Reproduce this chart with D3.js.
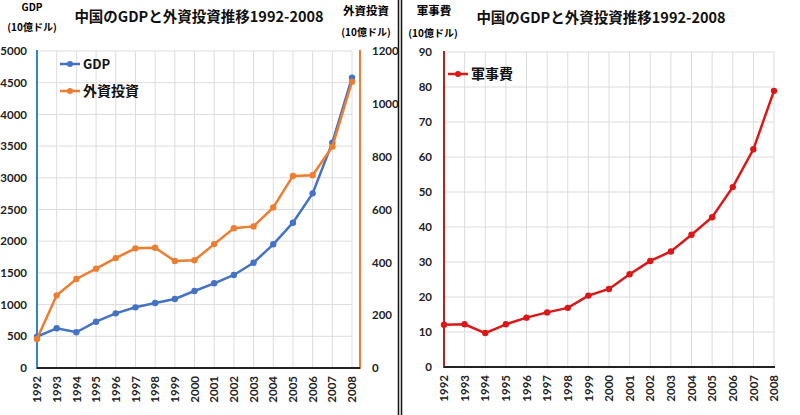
<!DOCTYPE html>
<html><head><meta charset="utf-8">
<script src="https://cdn.jsdelivr.net/npm/d3@7"></script>
<style>
body{margin:0;background:#fff;}
svg{display:block;}
text{font-family:"Noto Sans CJK JP","Lato",sans-serif;}
.tick text{font-family:"Lato","Noto Sans CJK JP",sans-serif;font-weight:700;font-size:11.5px;fill:#222;}
</style>
</head><body>
<svg id="c" width="800" height="415"></svg>
<script>
const years = ["1992","1993","1994","1995","1996","1997","1998","1999","2000","2001","2002","2003","2004","2005","2006","2007","2008"];
const gdp = [494,626,563,730,862,957,1025,1088,1214,1336,1467,1661,1951,2292,2755,3554,4579];
const fdi = [110,275,337,376,416,453,455,405,408,469,529,536,608,727,730,838,1084];
const military = [12.1,12.2,9.7,12.2,14.1,15.6,16.9,20.4,22.3,26.5,30.3,33.0,37.8,42.8,51.4,62.2,78.9];
const gdpTicks = [0,500,1000,1500,2000,2500,3000,3500,4000,4500,5000];
const fdiTicks = [0,200,400,600,800,1000,1200];
const milTicks = [0,10,20,30,40,50,60,70,80,90];
const title = "中国のGDPと外資投資推移1992-2008";

const svg = d3.select("#c");
const BLUE="#4472C4", ORANGE="#ED7D31", RED="#DA1818", GRID="#dcdcdc";
const fmt = d3.format("d");

function xAxisLabels(g, x, y0){
  g.selectAll("text.xl").data(years).enter().append("text")
    .attr("class","xl")
    .attr("transform",d=>`translate(${x(d)},${y0}) rotate(-90)`)
    .attr("text-anchor","end").attr("dy","0.36em")
    .style("font-family","Lato,sans-serif").style("font-weight","700")
    .style("font-size","11.5px").style("fill","#222").text(d=>d);
}

// ---------- Left chart ----------
{
  const x = d3.scalePoint().domain(years).range([37,352]);
  const y = d3.scaleLinear().domain([0,5000]).range([368,51]);
  const y2 = d3.scaleLinear().domain([0,1200]).range([368,51]);
  const g = svg.append("g");
  g.append("g").selectAll("line.h").data(gdpTicks.slice(1)).enter().append("line")
    .attr("x1",37).attr("x2",352).attr("y1",d=>y(d)).attr("y2",d=>y(d))
    .attr("stroke",GRID).attr("stroke-width",1);
  g.append("g").selectAll("line.v").data(years.slice(1)).enter().append("line")
    .attr("x1",d=>x(d)).attr("x2",d=>x(d)).attr("y1",51).attr("y2",368)
    .attr("stroke",GRID).attr("stroke-width",1);
  const la = g.append("g").attr("transform","translate(37,0)")
    .call(d3.axisLeft(y).tickValues(gdpTicks).tickFormat(fmt).tickSize(0).tickPadding(10));
  la.select(".domain").remove();
  const ra = g.append("g").attr("transform","translate(360,0)")
    .call(d3.axisRight(y2).tickValues(fdiTicks).tickFormat(fmt).tickSize(0).tickPadding(12));
  ra.select(".domain").remove();
  g.append("line").attr("x1",37).attr("x2",37).attr("y1",50).attr("y2",369).attr("stroke","#2E86D0").attr("stroke-width",2);
  g.append("line").attr("x1",360).attr("x2",360).attr("y1",50).attr("y2",369).attr("stroke",ORANGE).attr("stroke-width",2);
  g.append("line").attr("x1",37).attr("x2",360).attr("y1",368).attr("y2",368).attr("stroke","#222").attr("stroke-width",2);
  xAxisLabels(g, x, 376);
  const lg = d3.line().x((d,i)=>x(years[i])).y(d=>y(d));
  const lf = d3.line().x((d,i)=>x(years[i])).y(d=>y2(d));
  g.append("path").datum(gdp).attr("d",lg).attr("fill","none").attr("stroke",BLUE).attr("stroke-width",2.5);
  g.selectAll("circle.g").data(gdp).enter().append("circle").attr("cx",(d,i)=>x(years[i])).attr("cy",d=>y(d)).attr("r",3.2).attr("fill",BLUE);
  g.append("path").datum(fdi).attr("d",lf).attr("fill","none").attr("stroke",ORANGE).attr("stroke-width",2.5);
  g.selectAll("circle.f").data(fdi).enter().append("circle").attr("cx",(d,i)=>x(years[i])).attr("cy",d=>y2(d)).attr("r",3.2).attr("fill",ORANGE);
  [[BLUE,"GDP",64,13],[ORANGE,"外資投資",91,14]].forEach(([c,t,yy,fs])=>{
    g.append("line").attr("x1",60).attr("x2",80).attr("y1",yy).attr("y2",yy).attr("stroke",c).attr("stroke-width",2.5);
    g.append("circle").attr("cx",70).attr("cy",yy).attr("r",3).attr("fill",c);
    g.append("text").attr("x",83).attr("y",yy).attr("dy","0.36em").style("font-size",fs+"px").style("font-weight","700").style("fill","#111").text(t);
  });
  g.append("text").attr("x",199).attr("y",22).attr("text-anchor","middle").style("font-size","14.5px").style("font-weight","700").style("fill","#111").text(title);
  g.append("text").attr("x",32).attr("y",11).attr("text-anchor","middle").style("font-size","10px").style("font-weight","700").text("GDP");
  g.append("text").attr("x",32).attr("y",31).attr("text-anchor","middle").style("font-size","10px").style("font-weight","700").text("(10億ドル)");
  g.append("text").attr("x",366).attr("y",15).attr("text-anchor","middle").style("font-size","11.5px").style("font-weight","700").text("外資投資");
  g.append("text").attr("x",366).attr("y",36).attr("text-anchor","middle").style("font-size","10px").style("font-weight","700").text("(10億ドル)");
}

svg.append("line").attr("x1",398.5).attr("x2",398.5).attr("y1",0).attr("y2",415).attr("stroke","#111").attr("stroke-width",1.5);
svg.append("line").attr("x1",401.5).attr("x2",401.5).attr("y1",0).attr("y2",415).attr("stroke","#111").attr("stroke-width",1.5);

// ---------- Right chart ----------
{
  const x = d3.scalePoint().domain(years).range([444,774]);
  const y = d3.scaleLinear().domain([0,90]).range([367,52]);
  const g = svg.append("g");
  g.append("g").selectAll("line.h").data(milTicks.slice(1)).enter().append("line")
    .attr("x1",444).attr("x2",774).attr("y1",d=>y(d)).attr("y2",d=>y(d))
    .attr("stroke",GRID).attr("stroke-width",1);
  g.append("g").selectAll("line.v").data(years.slice(1)).enter().append("line")
    .attr("x1",d=>x(d)).attr("x2",d=>x(d)).attr("y1",52).attr("y2",367)
    .attr("stroke",GRID).attr("stroke-width",1);
  const la = g.append("g").attr("transform","translate(444,0)")
    .call(d3.axisLeft(y).tickValues(milTicks).tickFormat(fmt).tickSize(0).tickPadding(12));
  la.select(".domain").remove();
  g.append("line").attr("x1",444).attr("x2",444).attr("y1",51).attr("y2",368).attr("stroke","#B22222").attr("stroke-width",2);
  g.append("line").attr("x1",444).attr("x2",775).attr("y1",367).attr("y2",367).attr("stroke","#222").attr("stroke-width",2);
  xAxisLabels(g, x, 375);
  const lm = d3.line().x((d,i)=>x(years[i])).y(d=>y(d));
  g.append("path").datum(military).attr("d",lm).attr("fill","none").attr("stroke",RED).attr("stroke-width",2.5);
  g.selectAll("circle.m").data(military).enter().append("circle").attr("cx",(d,i)=>x(years[i])).attr("cy",d=>y(d)).attr("r",3.2).attr("fill",RED);
  g.append("line").attr("x1",448).attr("x2",468).attr("y1",74).attr("y2",74).attr("stroke",RED).attr("stroke-width",2.5);
  g.append("circle").attr("cx",458).attr("cy",74).attr("r",3).attr("fill",RED);
  g.append("text").attr("x",471).attr("y",74).attr("dy","0.36em").style("font-size","14px").style("font-weight","700").style("fill","#111").text("軍事費");
  g.append("text").attr("x",601).attr("y",23).attr("text-anchor","middle").style("font-size","14.5px").style("font-weight","700").style("fill","#111").text(title);
  g.append("text").attr("x",434).attr("y",15).attr("text-anchor","middle").style("font-size","11.5px").style("font-weight","700").text("軍事費");
  g.append("text").attr("x",433).attr("y",37).attr("text-anchor","middle").style("font-size","10px").style("font-weight","700").text("(10億ドル)");
}
</script>
</body></html>
